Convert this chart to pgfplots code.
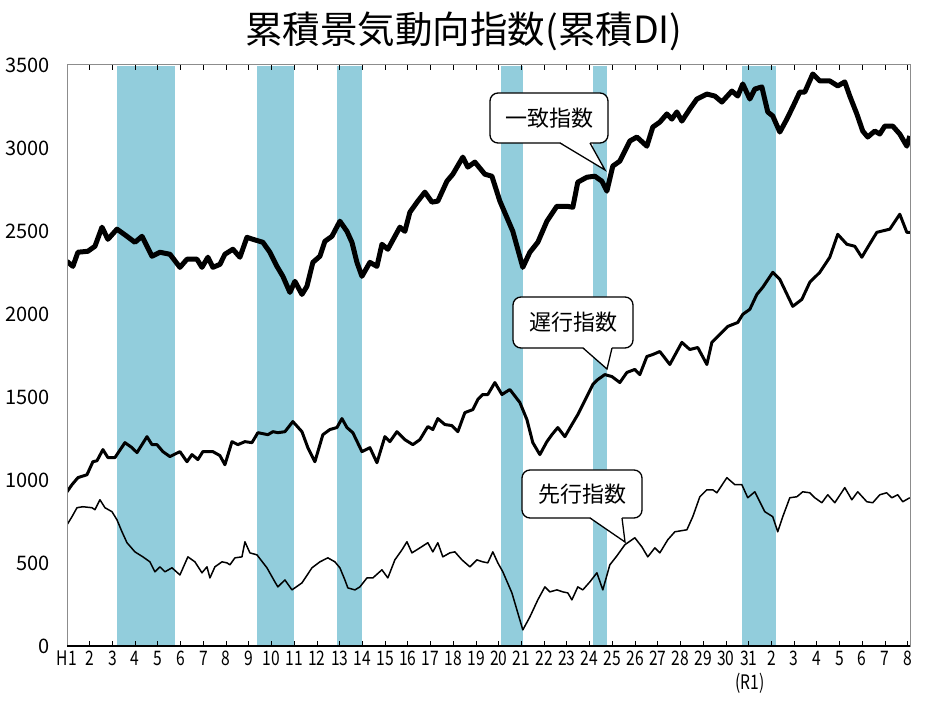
\documentclass[border=0pt]{standalone}
\usepackage{fontspec}
\setmainfont{Noto Sans CJK JP}
\newfontfamily\narrow[FakeStretch=0.78]{Noto Sans CJK JP}
\usepackage{pgfplots}
\pgfplotsset{compat=1.18}
\definecolor{band}{HTML}{92CDDC}
\definecolor{frame}{HTML}{8C8C8C}

% t = years since Jan 1989 (H1 = 0), values = cumulative DI
\pgfplotstableread{
t v
0.00 2317
0.26 2287
0.48 2372
0.92 2378
1.23 2408
1.54 2523
1.80 2450
2.20 2511
2.64 2468
2.99 2432
3.30 2468
3.74 2348
4.09 2372
4.53 2360
4.97 2281
5.28 2330
5.72 2330
5.94 2281
6.20 2342
6.42 2281
6.73 2299
6.95 2360
7.30 2390
7.61 2342
7.92 2462
8.18 2450
8.62 2432
8.93 2372
9.24 2287
9.50 2227
9.81 2130
10.03 2197
10.34 2118
10.56 2167
10.82 2311
11.13 2348
11.35 2438
11.66 2468
12.01 2559
12.32 2498
12.54 2432
12.76 2311
12.98 2227
13.33 2311
13.64 2287
13.86 2420
14.12 2390
14.65 2523
14.87 2498
15.09 2613
15.44 2680
15.75 2734
16.06 2674
16.32 2680
16.72 2800
16.98 2842
17.42 2945
17.64 2885
17.95 2915
18.39 2842
18.70 2830
19.05 2680
19.62 2498
20.06 2281
20.37 2372
20.72 2432
21.12 2559
21.56 2649
22.00 2649
22.26 2643
22.48 2794
22.88 2824
23.23 2830
23.54 2800
23.76 2740
24.02 2891
24.33 2921
24.77 3042
25.08 3066
25.52 3011
25.78 3126
26.09 3156
26.40 3205
26.62 3174
26.84 3217
27.06 3162
27.41 3235
27.72 3295
28.16 3325
28.51 3313
28.82 3277
29.26 3343
29.52 3313
29.74 3386
30.05 3295
30.27 3355
30.58 3368
30.84 3217
31.06 3193
31.37 3096
31.68 3174
31.94 3247
32.25 3337
32.47 3337
32.82 3446
33.13 3404
33.57 3404
33.92 3374
34.23 3398
34.45 3313
34.76 3205
35.02 3102
35.24 3066
35.55 3102
35.77 3084
35.99 3132
36.34 3132
36.65 3084
36.96 3011
37.09 3072
}\coincident

\pgfplotstableread{
t v
0.00 929
0.22 972
0.48 1014
0.88 1032
1.14 1110
1.32 1116
1.58 1183
1.80 1135
2.11 1135
2.55 1225
2.86 1195
3.08 1165
3.52 1261
3.74 1213
3.96 1213
4.22 1171
4.53 1141
4.97 1171
5.28 1110
5.50 1153
5.76 1123
5.98 1171
6.42 1171
6.73 1147
6.95 1092
7.26 1231
7.52 1213
7.83 1231
8.14 1225
8.40 1285
8.84 1273
9.06 1291
9.28 1285
9.59 1291
9.94 1352
10.34 1291
10.60 1195
10.91 1110
11.26 1273
11.57 1304
11.88 1316
12.10 1370
12.32 1316
12.58 1285
12.98 1171
13.33 1195
13.64 1104
13.99 1261
14.21 1231
14.52 1291
14.87 1243
15.22 1213
15.53 1243
15.88 1322
16.10 1304
16.32 1370
16.63 1334
16.94 1328
17.20 1291
17.51 1406
17.86 1424
18.08 1485
18.30 1515
18.52 1515
18.83 1587
19.14 1515
19.49 1545
19.93 1467
20.24 1364
20.50 1225
20.81 1153
21.12 1231
21.34 1273
21.60 1316
21.91 1261
22.22 1334
22.48 1394
22.88 1503
23.14 1575
23.36 1605
23.67 1635
23.98 1623
24.33 1587
24.64 1648
24.99 1666
25.21 1635
25.52 1744
25.78 1756
26.09 1774
26.53 1696
27.06 1829
27.41 1786
27.76 1798
28.16 1696
28.38 1829
28.60 1859
29.08 1925
29.52 1949
29.74 1998
30.05 2028
30.36 2118
30.62 2161
31.06 2251
31.37 2209
31.94 2046
32.34 2088
32.69 2191
33.13 2251
33.57 2342
33.92 2480
34.32 2420
34.67 2408
34.98 2342
35.24 2402
35.64 2492
36.21 2511
36.65 2601
36.96 2492
37.09 2492
}\lagging

\pgfplotstableread{
t v
0.00 730
0.22 779
0.44 833
0.70 839
1.10 833
1.23 821
1.45 881
1.67 833
1.98 809
2.20 760
2.42 688
2.64 622
2.99 567
3.34 537
3.65 507
3.87 447
4.09 477
4.31 447
4.62 471
4.97 428
5.32 537
5.63 507
5.94 441
6.16 477
6.29 410
6.51 477
6.82 507
7.04 501
7.17 489
7.39 531
7.70 537
7.83 628
8.05 561
8.36 549
8.80 471
9.15 386
9.28 356
9.59 398
9.90 338
10.34 380
10.78 471
11.13 507
11.48 531
11.79 507
12.01 471
12.23 398
12.36 350
12.67 338
12.89 356
13.20 410
13.46 410
13.86 459
14.12 410
14.43 519
14.74 579
14.96 628
15.18 561
15.53 591
15.88 622
16.10 567
16.32 622
16.54 537
16.85 561
17.07 567
17.38 519
17.73 477
18.04 519
18.30 507
18.52 501
18.74 567
18.96 501
19.18 447
19.58 320
19.84 199
20.06 97
20.37 175
20.72 278
21.03 356
21.25 326
21.56 338
21.82 326
22.04 320
22.22 278
22.48 356
22.70 338
23.01 386
23.32 441
23.58 338
23.89 489
24.20 543
24.55 610
24.99 652
25.30 597
25.56 537
25.87 591
26.09 561
26.44 640
26.75 688
27.28 700
27.54 779
27.85 899
28.16 941
28.42 941
28.60 923
29.04 1014
29.39 972
29.70 972
29.96 893
30.27 929
30.71 809
31.06 779
31.28 688
31.50 779
31.81 893
32.12 899
32.38 929
32.69 923
32.91 893
33.22 863
33.48 911
33.79 863
34.23 954
34.54 881
34.80 929
35.20 869
35.46 863
35.77 911
36.07 923
36.30 893
36.56 911
36.78 869
37.09 893
}\leading

\begin{document}
\begin{tikzpicture}
\path[use as bounding box] (0,0) rectangle (932bp,705bp);
\begin{axis}[
  at={(67bp,59bp)}, anchor=south west,
  scale only axis, width=843bp, height=581bp,
  xmin=0, xmax=37.1, ymin=0, ymax=3500,
  xtick={0,...,37},
  xticklabels={H1,2,3,4,5,6,7,8,9,10,11,12,13,14,15,16,17,18,19,20,21,22,23,24,25,26,27,28,29,30,31,2,3,4,5,6,7,8},
  ytick={0,500,...,3500},
  yticklabels={0,500,1000,1500,2000,2500,3000,3500},
  tick align=inside, major tick length=5bp,
  xtick style={black, line width=0.8bp},
  ytick style={draw=none},
  axis line style={frame, line width=1bp},
  xticklabel style={font=\narrow\fontsize{20bp}{20bp}\selectfont, anchor=north, inner sep=0pt, yshift=-5bp},
  yticklabel style={font=\fontsize{20bp}{20bp}\selectfont, anchor=east, inner sep=0pt, xshift=-17bp},
  /pgf/number format/assume math mode=true,
  axis on top,
]
% recession bands
\addplot[fill=band, draw=white, line width=0.6bp] coordinates {(2.15,0)(2.15,3500)(4.77,3500)(4.77,0)} -- cycle;
\addplot[fill=band, draw=white, line width=0.6bp] coordinates {(8.35,0)(8.35,3500)(10.0,3500)(10.0,0)} -- cycle;
\addplot[fill=band, draw=white, line width=0.6bp] coordinates {(11.83,0)(11.83,3500)(12.98,3500)(12.98,0)} -- cycle;
\addplot[fill=band, draw=white, line width=0.6bp] coordinates {(19.05,0)(19.05,3500)(20.1,3500)(20.1,0)} -- cycle;
\addplot[fill=band, draw=white, line width=0.6bp] coordinates {(23.12,0)(23.12,3500)(23.76,3500)(23.76,0)} -- cycle;
\addplot[fill=band, draw=white, line width=0.6bp] coordinates {(29.68,0)(29.68,3500)(31.22,3500)(31.22,0)} -- cycle;
% series
\addplot[black, line width=1.5bp, line join=round, no marks] table[x=t, y=v] {\leading};
\addplot[black, line width=3bp, line join=round, no marks] table[x=t, y=v] {\lagging};
\addplot[black, line width=5bp, line join=round, no marks] table[x=t, y=v] {\coincident};
\end{axis}
\draw[black, line width=1.4bp] (67bp,59bp) -- (910bp,59bp);
% title and extra label
\node[font=\fontsize{37.5bp}{40bp}\selectfont] at (464bp,674bp) {累積景気動向指数(累積DI)};
\node[font=\narrow\fontsize{20bp}{20bp}\selectfont] at (750bp,22bp) {(R1)};
% callouts
\filldraw[fill=white, draw=black, line width=1.3bp, rounded corners=8bp] (490bp,562bp) rectangle (608bp,612bp);
\fill[white] (560bp,563bp) -- (605bp,535bp) -- (590bp,563bp) -- cycle;
\draw[black, line width=1.3bp, line join=miter] (560bp,562bp) -- (605bp,535bp) -- (590bp,562bp);
\node[font=\fontsize{22bp}{22bp}\selectfont] at (549bp,587bp) {一致指数};
\filldraw[fill=white, draw=black, line width=1.3bp, rounded corners=8bp] (513bp,357bp) rectangle (633bp,408bp);
\fill[white] (583bp,358bp) -- (607bp,336bp) -- (612bp,358bp) -- cycle;
\draw[black, line width=1.3bp, line join=miter] (583bp,357bp) -- (607bp,336bp) -- (612bp,357bp);
\node[font=\fontsize{22bp}{22bp}\selectfont] at (573bp,382.5bp) {遅行指数};
\filldraw[fill=white, draw=black, line width=1.3bp, rounded corners=8bp] (522bp,187bp) rectangle (642bp,235bp);
\fill[white] (590bp,188bp) -- (625bp,163bp) -- (622bp,188bp) -- cycle;
\draw[black, line width=1.3bp, line join=miter] (590bp,187bp) -- (625bp,163bp) -- (622bp,187bp);
\node[font=\fontsize{22bp}{22bp}\selectfont] at (582bp,211bp) {先行指数};
\end{tikzpicture}
\end{document}
